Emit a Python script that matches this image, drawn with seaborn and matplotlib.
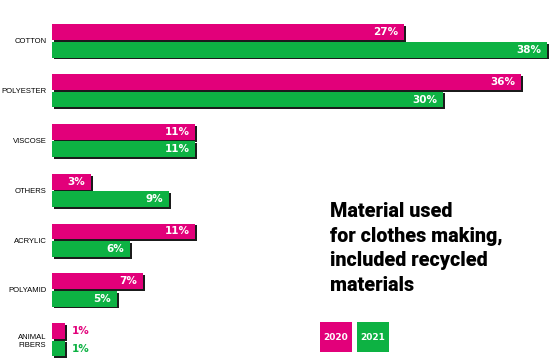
import matplotlib
matplotlib.use("Agg")
import matplotlib.pyplot as plt
import matplotlib.patheffects as pe
from matplotlib.patches import Rectangle
import seaborn as sns
import pandas as pd

categories = ["COTTON", "POLYESTER", "VISCOSE", "OTHERS", "ACRYLIC", "POLYAMID", "ANIMAL\nFIBERS"]
values_2020 = [27, 36, 11, 3, 11, 7, 1]
values_2021 = [38, 30, 11, 9, 6, 5, 1]
years = ["2020", "2021"]
colors = {"2020": "#e2007a", "2021": "#0db243"}
title = "Material used\nfor clothes making,\nincluded recycled\nmaterials"

df = pd.DataFrame({
    "material": categories * 2,
    "value": values_2020 + values_2021,
    "year": [years[0]] * len(categories) + [years[1]] * len(categories),
})

sns.set_theme(style="white")
plt.rcParams["font.family"] = ["Liberation Sans", "DejaVu Sans"]

fig = plt.figure(figsize=(5.5, 3.62), dpi=100)
ax = fig.add_axes([0.0945, 0.0, 0.9055, 1.0])

sns.barplot(data=df, y="material", x="value", hue="year", orient="h",
            palette=colors, width=0.7, gap=0.1, ax=ax, legend=False,
            edgecolor="none", saturation=1)

shadow = [pe.SimplePatchShadow(offset=(1.3, -1.3), shadow_rgbFace="#1b1b1b", alpha=1.0), pe.Normal()]
for cont, yr in zip(ax.containers, years):
    for p in cont.patches:
        p.set_path_effects(shadow)
        w = p.get_width()
        yc = p.get_y() + p.get_height() / 2
        if w >= 2:
            ax.text(w - 0.45, yc, f"{int(w)}%", ha="right", va="center",
                    color="white", fontsize=7.5, fontweight="bold",
                    family="DejaVu Sans")
        else:
            ax.text(w + 0.5, yc, f"{int(w)}%", ha="left", va="center",
                    color=colors[yr], fontsize=7.5, fontweight="bold",
                    family="DejaVu Sans")

ax.set_xlim(0, 38.2)
ax.set_ylim(6.446, -0.823)
ax.set_xlabel("")
ax.set_ylabel("")
ax.set_xticks([])
ax.tick_params(axis="y", length=0, pad=4, labelsize=5.5, labelcolor="black")
for lbl in ax.get_yticklabels():
    lbl.set_ha("right")
    lbl.set_multialignment("center")
sns.despine(ax=ax, left=True, bottom=True)
ax.patch.set_alpha(0)

fig.text(0.6, 0.442, title, ha="left", va="top", fontsize=14.2,
         fontweight="black", family=["Roboto", "DejaVu Sans"], color="black",
         linespacing=1.38)

for i, yr in enumerate(years):
    x0 = 320 + i * 37
    fig.patches.append(Rectangle((x0 / 550, 1 - 352 / 362), 32 / 550, 30 / 362,
                                 transform=fig.transFigure, facecolor=colors[yr],
                                 edgecolor="none"))
    fig.text((x0 + 16) / 550, 1 - 337 / 362, yr, ha="center", va="center",
             color="white", fontsize=6.5, fontweight="bold",
             family="DejaVu Sans")

fig.savefig("out.png", dpi=100)
